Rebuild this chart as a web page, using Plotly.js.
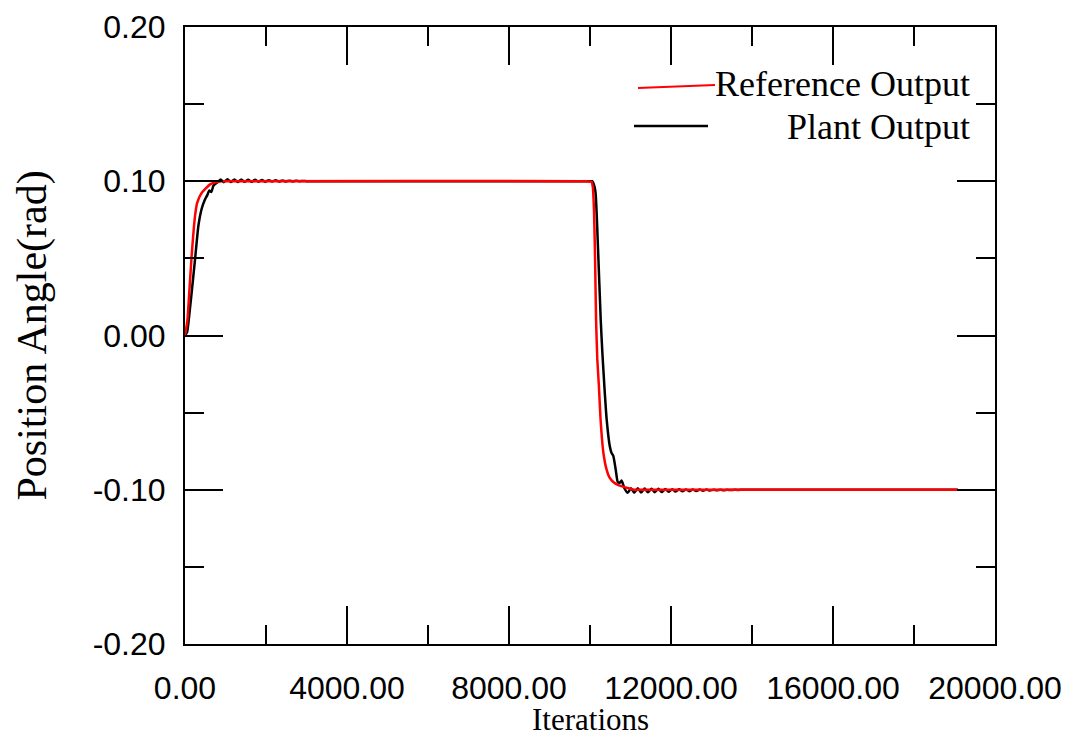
<!DOCTYPE html>
<html>
<head>
<meta charset="utf-8">
<script src="https://cdn.plot.ly/plotly-3.0.1.min.js"></script>
<style>html,body{margin:0;padding:0;background:#fff;}#chart{width:1070px;height:737px;}</style>
</head>
<body>
<div id="chart"></div>
<script>
// Reference Output (red)
const refX = [0, 60, 110, 160, 200, 250, 300, 400, 500, 620, 750, 900, 1100, 9900,
  10040, 10070, 10100, 10125, 10150, 10180, 10220, 10260, 10330, 10410, 10480, 10575, 10700, 10815, 10950, 11100, 11400, 18900, 19080];
const refY = [0, 0.010, 0.030, 0.050, 0.064, 0.078, 0.086, 0.092, 0.095, 0.098, 0.0993, 0.1, 0.1, 0.1,
  0.0995, 0.096, 0.080, 0.050, 0.010, -0.015, -0.033, -0.054, -0.076, -0.087, -0.092, -0.095, -0.097, -0.098, -0.099, -0.1, -0.1, -0.1, -0.1];

// Plant Output (black)
const plantX = [0, 50, 100, 165, 250, 330, 410, 490, 550, 600, 650, 700, 760, 810,
  880, 960, 1050, 1130, 1220, 1300, 1390, 1470, 1560, 1640, 1730, 1810, 1900, 1980, 2070, 2150,
  2240, 2320, 2410, 2490, 2580, 2660, 2750, 2830, 2920, 3000, 3200, 9850,
  10000, 10050, 10080, 10135, 10200, 10265, 10305, 10355, 10410, 10490, 10530, 10575, 10635, 10685, 10730, 10780, 10850, 10930,
  11010, 11090, 11180, 11260, 11350, 11430, 11520, 11600, 11690, 11770, 11860, 11940, 12030, 12110,
  12200, 12280, 12370, 12450, 12540, 12620, 12710, 12790, 12880, 12960, 13050, 13130, 13220, 13300,
  13390, 13470, 13560, 13640, 13800, 14000, 18900, 19080];
const plantY = [0, 0.002, 0.012, 0.028, 0.050, 0.071, 0.082, 0.088, 0.091, 0.094, 0.093, 0.097, 0.0985, 0.0995,
  0.1012, 0.0994, 0.1013, 0.0995, 0.1012, 0.0995, 0.1011, 0.0996, 0.1010, 0.0996, 0.1009, 0.0997, 0.1008, 0.0997, 0.1007, 0.0998,
  0.1006, 0.0998, 0.1005, 0.0999, 0.1004, 0.0999, 0.1003, 0.1000, 0.1002, 0.1000, 0.1000, 0.1000,
  0.1000, 0.1000, 0.0990, 0.093, 0.055, 0.010, -0.011, -0.033, -0.054, -0.072, -0.076, -0.078, -0.087, -0.095, -0.0955, -0.094, -0.099, -0.102,
  -0.0990, -0.1019, -0.0991, -0.1018, -0.0992, -0.1017, -0.0993, -0.1016, -0.0994, -0.1015, -0.0995, -0.1013, -0.0996, -0.1012,
  -0.0997, -0.1010, -0.0998, -0.1009, -0.0998, -0.1008, -0.0999, -0.1006, -0.0999, -0.1005, -0.1000, -0.1004, -0.1000, -0.1003,
  -0.1000, -0.1002, -0.1000, -0.1001, -0.1000, -0.1000, -0.1000, -0.1000];

const xTickVals = [0, 4000, 8000, 12000, 16000, 20000];
const xTickText = ["0.00", "4000.00", "8000.00", "12000.00", "16000.00", "20000.00"];
const yTickVals = [-0.2, -0.1, 0, 0.1, 0.2];
const yTickText = ["-0.20", "-0.10", "0.00", "0.10", "0.20"];

const seriesNames = ["Reference Output", "Plant Output"];

const W = 810, H = 617, L = 185, T = 27;
const px = v => (v - L) / W;
const py = v => (T + H - v) / H;

const traces = [
  {x: plantX, y: plantY, type: 'scatter', mode: 'lines', name: seriesNames[1],
   line: {color: '#000000', width: 2.5, shape: 'spline', smoothing: 0.5}, showlegend: false},
  {x: refX, y: refY, type: 'scatter', mode: 'lines', name: seriesNames[0],
   line: {color: '#ff0000', width: 2.5, shape: 'spline', smoothing: 0.5}, showlegend: false}
];

const axisCommon = {
  showgrid: false, zeroline: false, showline: true, linecolor: '#000', linewidth: 2,
  mirror: 'allticks', ticks: 'inside', ticklen: 38, tickwidth: 2, tickcolor: '#000',
  tickfont: {family: 'Liberation Sans, Arial, sans-serif', size: 32, color: '#000'},
  tickmode: 'array'
};

const layout = {
  width: 1070, height: 737,
  margin: {l: L, r: 1070 - L - W, t: T, b: 737 - T - H},
  paper_bgcolor: '#fff', plot_bgcolor: '#fff',
  showlegend: false,
  xaxis: Object.assign({}, axisCommon, {
    range: [0, 20000], tickvals: xTickVals, ticktext: xTickText,
    ticklabelstandoff: 15,
    minor: {tickvals: [2000, 6000, 10000, 14000, 18000], ticks: 'inside', ticklen: 19, tickwidth: 2, tickcolor: '#000'},
    automargin: false
  }),
  yaxis: Object.assign({}, axisCommon, {
    range: [-0.2, 0.2], tickvals: yTickVals, ticktext: yTickText,
    ticklabelstandoff: 11,
    minor: {tickvals: [-0.15, -0.05, 0.05, 0.15], ticks: 'inside', ticklen: 19, tickwidth: 2, tickcolor: '#000'},
    automargin: false
  }),
  shapes: [
    {type: 'line', xref: 'paper', yref: 'paper', x0: px(638), x1: px(715), y0: py(88), y1: py(85),
     line: {color: '#ff0000', width: 2}},
    {type: 'line', xref: 'paper', yref: 'paper', x0: px(634), x1: px(708), y0: py(126), y1: py(126),
     line: {color: '#000000', width: 2.5}}
  ],
  annotations: [
    {xref: 'paper', yref: 'paper', x: px(972), y: py(84), xanchor: 'right', yanchor: 'middle',
     text: seriesNames[0], showarrow: false,
     font: {family: 'Liberation Serif, Times New Roman, serif', size: 36, color: '#000'}},
    {xref: 'paper', yref: 'paper', x: px(972), y: py(127), xanchor: 'right', yanchor: 'middle',
     text: seriesNames[1], showarrow: false,
     font: {family: 'Liberation Serif, Times New Roman, serif', size: 36, color: '#000'}},
    {xref: 'paper', yref: 'paper', x: 0.5, y: py(719), xanchor: 'center', yanchor: 'middle',
     text: 'Iterations', showarrow: false,
     font: {family: 'Liberation Serif, Times New Roman, serif', size: 31, color: '#000'}},
    {xref: 'paper', yref: 'paper', x: px(32), y: 0.5, xanchor: 'center', yanchor: 'middle',
     text: 'Position Angle(rad)', showarrow: false, textangle: -90,
     font: {family: 'Liberation Serif, Times New Roman, serif', size: 42, color: '#000'}}
  ]
};

Plotly.newPlot('chart', traces, layout, {displayModeBar: false, staticPlot: true});
</script>
</body>
</html>
